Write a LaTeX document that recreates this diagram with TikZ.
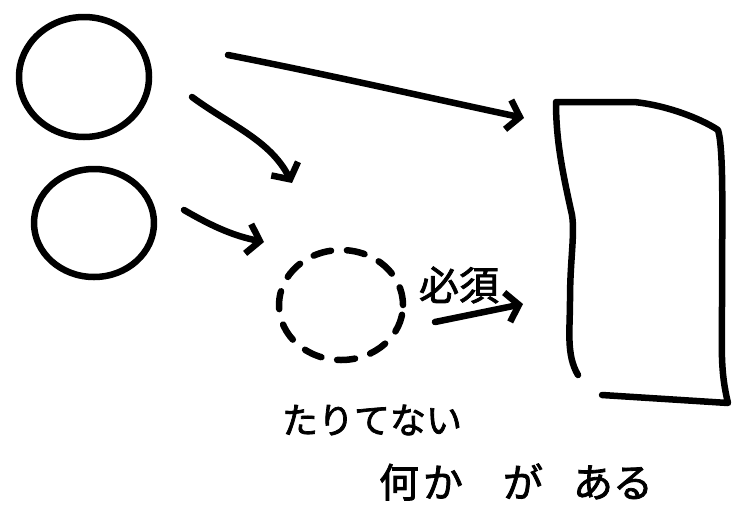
\documentclass[tikz,border=0pt]{standalone}
\usepackage{fontspec}
\newfontfamily\jp[FakeBold=2]{Noto Sans CJK JP}
\usetikzlibrary{arrows.meta,shapes.geometric}
\begin{document}
\begin{tikzpicture}[x=1pt,y=-1pt,
  sketch/.style={line width=6.5pt, line cap=round, line join=round},
  blob/.style={sketch, draw, ellipse, inner sep=0pt},
  conn/.style={sketch, -{Straight Barb[length=12pt,width=30pt,line width=6.5pt]}},
  label/.style={font=\jp\fontsize{36}{36}\selectfont, inner sep=0pt}]
\useasboundingbox (0,0) rectangle (735,514);
% circles
\node[blob, minimum width=130pt, minimum height=120pt] (c1) at (84,77) {};
\node[blob, minimum width=120pt, minimum height=108pt] (c2) at (94,223) {};
\node[blob, dashed, dash pattern=on 18pt off 16pt, minimum width=124pt, minimum height=110pt] (c3) at (341,305) {};
% rectangle (hand-drawn)
\draw[sketch] (578,375) .. controls (566,355) and (570,330) .. (570,300)
  .. controls (570,260) and (575,235) .. (572,215)
  .. controls (562,170) and (556,140) .. (556,102)
  -- (634,102) .. controls (665,105) and (700,118) .. (718,130)
  .. controls (724,150) and (722,220) .. (722,300)
  .. controls (722,350) and (720,370) .. (728,403)
  -- (602,395);
% connectors
\coordinate (a1s) at (228,55);  \coordinate (a1e) at (524,118);
\coordinate (a2s) at (192,97);  \coordinate (a2e) at (292,183);
\coordinate (a3s) at (184,210); \coordinate (a3e) at (264,242);
\coordinate (a4s) at (435,322); \coordinate (a4e) at (523,304);
\draw[conn] (a1s) .. controls (330,75) and (430,98) .. (a1e);
\draw[conn] (a2s) .. controls (230,125) and (270,140) .. (a2e);
\draw[conn] (a3s) .. controls (215,228) and (235,236) .. (a3e);
\draw[conn] (a4s) -- (a4e);
% texts
\node[label, font=\jp\fontsize{40}{40}\selectfont] (req) at (459,285) {必須};
\node[label] (t1) at (372,420) {たりてない};
\node[label, font=\jp\fontsize{40}{40}\selectfont] (t2) at (516,482) {何\hspace{4pt}か\hspace{40pt}が\hspace{30pt}ある};
\end{tikzpicture}
\end{document}
